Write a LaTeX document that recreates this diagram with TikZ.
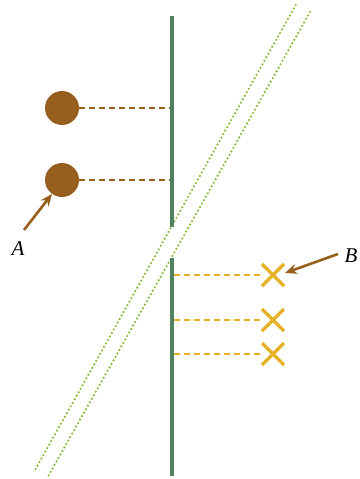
\documentclass[tikz,border=0pt]{standalone}
\usepackage{fontspec}
\setmainfont{Liberation Serif}
\usetikzlibrary{calc,arrows.meta}
\begin{document}
\begin{tikzpicture}[x=1pt,y=-1pt,
  glass/.style={draw={rgb,255:red,130;green,185;blue,50}, line width=2.4pt, dash pattern=on 0pt off 4pt, line cap=round},
  mirror/.style={draw={rgb,255:red,80;green,130;blue,95}, line width=4pt},
  brownc/.style={fill={rgb,255:red,150;green,95;blue,30}, draw=none, circle, minimum size=34pt, inner sep=0pt},
  browndash/.style={draw={rgb,255:red,150;green,95;blue,30}, line width=2pt, dash pattern=on 6pt off 4pt},
  yelldash/.style={draw={rgb,255:red,230;green,178;blue,40}, line width=2pt, dash pattern=on 6pt off 4pt},
  crossmk/.style={draw={rgb,255:red,230;green,178;blue,40}, line width=3.2pt},
  pointer/.style={draw={rgb,255:red,150;green,95;blue,30}, line width=2.6pt, -{Stealth[length=12pt,width=10pt]}},
  lbl/.style={font=\fontsize{21}{21}\selectfont\itshape, inner sep=0pt}
]
\useasboundingbox (0,0) rectangle (359,479);
% glass
\coordinate (g1a) at (295.7,5);
\coordinate (g1b) at (35,470);
\coordinate (g2a) at (310,12);
\coordinate (g2b) at (47.7,477);
\draw[glass] (g1a) -- (g1b);
\draw[glass] (g2a) -- (g2b);
% mirror
\coordinate (m1) at (172,16);
\coordinate (m2) at (172,227);
\coordinate (m3) at (172,258);
\coordinate (m4) at (172,476);
\draw[mirror] (m1) -- (m2);
\draw[mirror] (m3) -- (m4);
% circles
\node[brownc] (c1) at (62,108) {};
\node[brownc] (c2) at (62,180) {};
\coordinate (d1) at (170,108);
\coordinate (d2) at (170,180);
\draw[browndash] (c1.east) -- (d1);
\draw[browndash] (c2.east) -- (d2);
% crosses
\foreach \n/\y in {1/275,2/320,3/354}{
  \coordinate (x\n) at (273,\y);
  \draw[crossmk] ($(x\n)+(-11,-11)$) -- ($(x\n)+(11,11)$);
  \draw[crossmk] ($(x\n)+(-11,11)$) -- ($(x\n)+(11,-11)$);
  \coordinate (y\n) at (174,\y);
  \draw[yelldash] (y\n) -- ($(x\n)+(-11,0)$);
}
% labels
\node[lbl] (A) at (18,249) {A};
\node[lbl] (B) at (351,256) {B};
\coordinate (at) at (24,230);
\coordinate (ah) at (52,194);
\draw[pointer] (at) -- (ah);
\coordinate (bt) at (338,254);
\coordinate (bh) at (285,273);
\draw[pointer] (bt) -- (bh);
\end{tikzpicture}
\end{document}
